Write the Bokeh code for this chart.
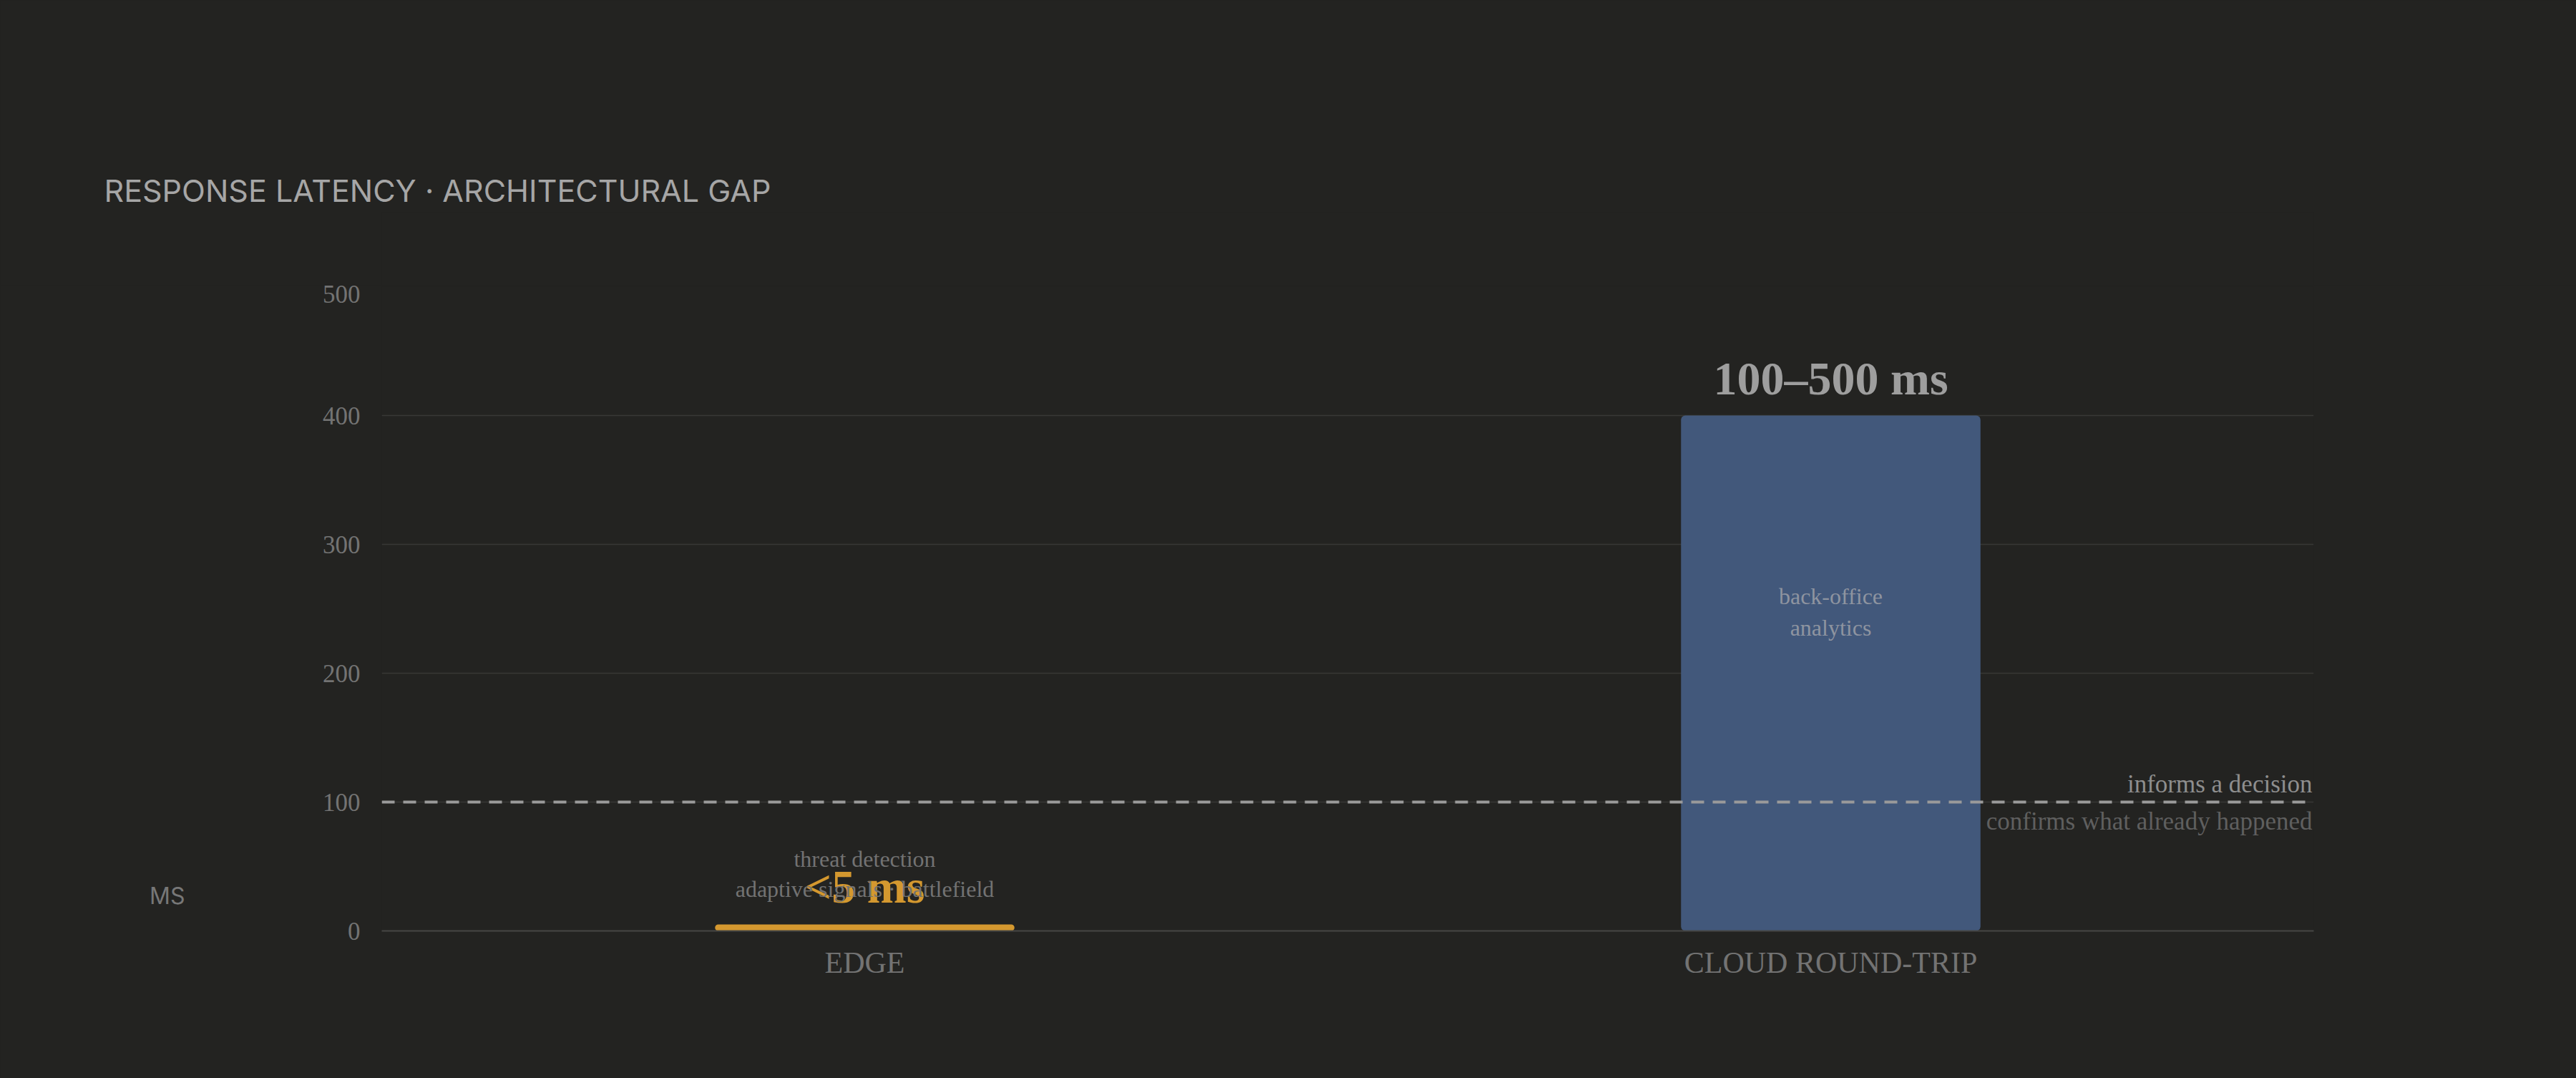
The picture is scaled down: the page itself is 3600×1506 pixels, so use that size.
from bokeh.plotting import figure
from bokeh.models import (FactorRange, Range1d, FixedTicker, Span, Label, ColumnDataSource, Title,
                          LinearAxis)
from bokeh.layouts import column
from bokeh.core.properties import value
from bokeh.embed import file_html
from bokeh.resources import INLINE

# ---- data ----
title_text = "RESPONSE LATENCY · ARCHITECTURAL GAP"
categories = ["EDGE", "CLOUD ROUND-TRIP"]
latency_ms = [5, 400]
value_labels = ["<5 ms", "100–500 ms"]
bar_colors = ["#d4982f", "#42587b"]
label_colors = ["#d4982f", "#9e9e9e"]
edge_notes = ["threat detection", "adaptive signals · battlefield"]
cloud_notes = ["back-office", "analytics"]
y_ticks = [0, 100, 200, 300, 400, 500]
threshold_ms = 100
threshold_labels = ["informs a decision", "confirms what already happened"]
y_unit = "MS"
y_unit_at = 27   # level on the value axis beside which the unit label sits

BG = "#232321"
SERIF = value("Liberation Serif")
W = 3600
LEFT, RIGHT = 533, 367

# ---- title strip ----
t = figure(width=W, height=398, x_range=Range1d(0, 1), y_range=Range1d(0, 1),
           toolbar_location=None, output_backend="svg",
           min_border_left=LEFT, min_border_right=RIGHT, min_border_top=296, min_border_bottom=0,
           x_axis_type=None, y_axis_type=None)
t.grid.visible = False
t.outline_line_color = None
t.background_fill_color = BG
t.border_fill_color = BG
t.add_layout(Title(text=title_text, align="left", offset=-388, text_font="Inter",
                   text_font_size="43px", text_font_style="normal", text_color="#a6a6a6",
                   standoff=10), "above")

# ---- chart ----
src = ColumnDataSource(dict(cat=categories, val=latency_ms, lab=value_labels,
                            bc=bar_colors, lc=label_colors, off=[-53, -52]))

p = figure(width=W, height=1108, x_range=FactorRange(*categories, range_padding=0),
           y_range=Range1d(0, 500), toolbar_location=None, output_backend="svg",
           min_border_left=LEFT, min_border_right=RIGHT, min_border_top=2, min_border_bottom=206)
p.background_fill_color = BG
p.border_fill_color = BG
p.outline_line_color = None
p.xgrid.grid_line_color = None
p.ygrid.grid_line_color = "#383836"
p.ygrid.grid_line_width = 1.5
p.ygrid.ticker = FixedTicker(ticks=y_ticks)

p.yaxis.ticker = FixedTicker(ticks=y_ticks)
p.yaxis.axis_line_color = None
p.yaxis.major_tick_line_color = None
p.yaxis.minor_tick_line_color = None
p.yaxis.major_tick_out = 0
p.yaxis.major_label_standoff = 30
p.yaxis.major_label_text_font = "Liberation Serif"
p.yaxis.major_label_text_font_size = "35px"
p.yaxis.major_label_text_color = "#737373"

unit_axis = LinearAxis(ticker=FixedTicker(ticks=[y_unit_at]),
                       major_label_overrides={y_unit_at: y_unit},
                       major_label_standoff=189, major_label_text_font="Inter",
                       major_label_text_font_size="32px", major_label_text_color="#777777",
                       axis_line_color=None, major_tick_line_color=None, minor_tick_line_color=None,
                       major_tick_out=0, major_tick_in=0)
p.add_layout(unit_axis, "left")

p.xaxis.axis_line_color = "#474745"
p.xaxis.axis_line_width = 2
p.xaxis.major_tick_line_color = None
p.xaxis.minor_tick_line_color = None
p.xaxis.major_tick_out = 0
p.xaxis.major_label_standoff = 21
p.xaxis.major_label_text_font = "Liberation Serif"
p.xaxis.major_label_text_font_size = "42px"
p.xaxis.major_label_text_color = "#737373"

p.vbar(x="cat", top="val", bottom=0, width=0.31, fill_color="bc", line_color=None,
       border_radius=6, source=src)

p.add_layout(Span(location=threshold_ms, dimension="width", line_color="#9a9a9a",
                  line_width=4, line_dash="18 12"))

p.text(x="cat", y="val", text="lab", text_color="lc", y_offset="off", source=src,
       text_font=SERIF, text_font_style="bold", text_font_size="66px",
       text_align="center", text_baseline="alphabetic")

edge_src = ColumnDataSource(dict(cat=[categories[0]] * 2, val=[latency_ms[0]] * 2, txt=edge_notes,
                                 off=[-92, -50]))
p.text(x="cat", y="val", text="txt", y_offset="off", source=edge_src, text_font=SERIF,
       text_font_size="32px", text_color="#727272", text_align="center", text_baseline="alphabetic")

cloud_src = ColumnDataSource(dict(cat=[categories[1]] * 2, val=[latency_ms[1]] * 2, txt=cloud_notes,
                                  off=[252, 296]))
p.text(x="cat", y="val", text="txt", y_offset="off", source=cloud_src, text_font=SERIF,
       text_font_size="32px", text_color="#8e94a0", text_align="center", text_baseline="alphabetic")

p.add_layout(Label(x=len(categories), y=threshold_ms, text=threshold_labels[0], x_offset=-2, y_offset=25,
                   text_font="Liberation Serif", text_font_size="35px", text_color="#8e8e8e",
                   text_align="right", text_baseline="alphabetic"))
p.add_layout(Label(x=len(categories), y=threshold_ms, text=threshold_labels[1], x_offset=-2, y_offset=-27,
                   text_font="Liberation Serif", text_font_size="35px", text_color="#5f5f5f",
                   text_align="right", text_baseline="alphabetic"))

layout = column(t, p, spacing=0)
html = file_html(layout, INLINE)
html = html.replace("</head>", "<style>html,body{background:#232321;}</style></head>", 1)
open("out.html", "w").write(html)
